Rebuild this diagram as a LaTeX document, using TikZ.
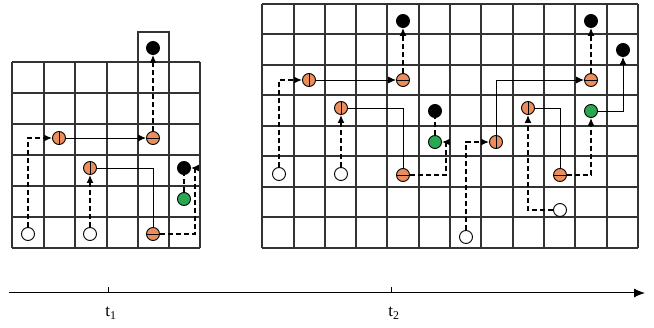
\documentclass[tikz,border=0pt]{standalone}
\usepackage{fontspec}
\setmainfont{Liberation Serif}
\usetikzlibrary{arrows.meta}
\definecolor{orng}{RGB}{235,142,92}
\definecolor{grn}{RGB}{40,168,80}
\tikzset{
  gridline/.style={line width=1.3pt, black!80},
  pt/.style={circle, draw=black, line width=0.9pt, minimum size=13pt, inner sep=0pt},
  wpt/.style={pt, fill=white},
  bpt/.style={pt, fill=black},
  gpt/.style={pt, fill=grn},
  opv/.style={pt, fill=orng, path picture={\draw[line width=0.8pt] (path picture bounding box.north) -- (path picture bounding box.south);}},
  oph/.style={pt, fill=orng, path picture={\draw[line width=0.8pt] (path picture bounding box.west) -- (path picture bounding box.east);}},
  tip/.style={-{Latex[length=8pt,width=7pt]}},
  dline/.style={line width=1.4pt, dash pattern=on 5pt off 3pt},
  sline/.style={line width=0.9pt},
  axisline/.style={line width=1pt, -{Latex[length=11pt,width=9pt]}},
  lbl/.style={font=\fontsize{17}{17}\selectfont, inner sep=0pt}
}
\begin{document}
\begin{tikzpicture}[x=1pt,y=-1pt]
\useasboundingbox (0,0) rectangle (654,328);
% left grid
\foreach \x in {12,44,75,107,138,169,200} \draw[gridline] (\x,62) -- (\x,248);
\foreach \y in {62,93,124,155,186,217,248} \draw[gridline] (12,\y) -- (200,\y);
\draw[gridline] (138,62) -- (138,32) -- (169,32) -- (169,62);
% right grid
\foreach \x in {262,294,325,356,387,419,450,481,513,544,575,607,638} \draw[gridline] (\x,4) -- (\x,248);
\foreach \y in {4,34,65,95,126,156,187,217,248} \draw[gridline] (262,\y) -- (638,\y);

% left nodes
\node[wpt] (A) at (28,234) {};
\node[wpt] (B) at (90,234) {};
\node[opv] (C) at (59,138) {};
\node[opv] (D) at (90,168) {};
\node[oph] (E) at (153,138) {};
\node[bpt] (F) at (153,48) {};
\node[oph] (G) at (153,234) {};
\node[bpt] (H) at (184,168) {};
\node[gpt] (I) at (184,199) {};

\draw[dline,tip] (A) |- (C);
\draw[dline,tip] (B) -- (D);
\draw[sline,tip] (C) -- (E);
\draw[dline,tip] (E) -- (F);
\draw[sline] (D) -| (G);
\draw[dline,tip] (G) -| ([xshift=11pt]H.center) -- (H);
\draw[dline] (I) -- (H);

% right nodes
\node[wpt] (J) at (279,174) {};
\node[opv] (K) at (309,80) {};
\node[wpt] (L) at (341,174) {};
\node[opv] (M) at (341,108) {};
\node[oph] (N) at (403,80) {};
\node[bpt] (O) at (403,21) {};
\node[oph] (P) at (403,175) {};
\node[gpt] (Q) at (435,142) {};
\node[bpt] (R) at (435,111) {};
\node[wpt] (S) at (466,237) {};
\node[opv] (T) at (496,142) {};
\node[oph] (U) at (591,80) {};
\node[bpt] (V) at (591,21) {};
\node[opv] (W) at (528,108) {};
\node[wpt] (X) at (560,210) {};
\node[oph] (Y) at (560,175) {};
\node[gpt] (Z) at (591,111) {};
\node[bpt] (AA) at (623,50) {};

\draw[dline,tip] (J) |- (K);
\draw[dline,tip] (L) -- (M);
\draw[sline,tip] (K) -- (N);
\draw[dline,tip] (N) -- (O);
\draw[sline] (M) -| (P);
\draw[dline,tip] (P) -| ([xshift=11pt]Q.center) -- (Q);
\draw[dline] (Q) -- (R);
\draw[dline,tip] (S) |- (T);
\draw[sline,tip] (T) |- (U);
\draw[dline,tip] (U) -- (V);
\draw[dline,tip] (X) -| (W);
\draw[sline] (W) -| (Y);
\draw[dline,tip] (Y) -| (Z);
\draw[sline,tip] (Z) -| (AA);

% time axis
\coordinate (ax0) at (9,293);
\coordinate (ax1) at (645,293);
\draw[axisline] (ax0) -- (ax1);
\coordinate (tk1) at (108,293);
\coordinate (tk2) at (391,293);
\draw[line width=0.8pt] (tk1) -- ++(0,-6);
\draw[line width=0.8pt] (tk2) -- ++(0,-6);
\node[lbl] (t1) at (111,313) {t\textsubscript{1}};
\node[lbl] (t2) at (394,313) {t\textsubscript{2}};
\end{tikzpicture}
\end{document}
